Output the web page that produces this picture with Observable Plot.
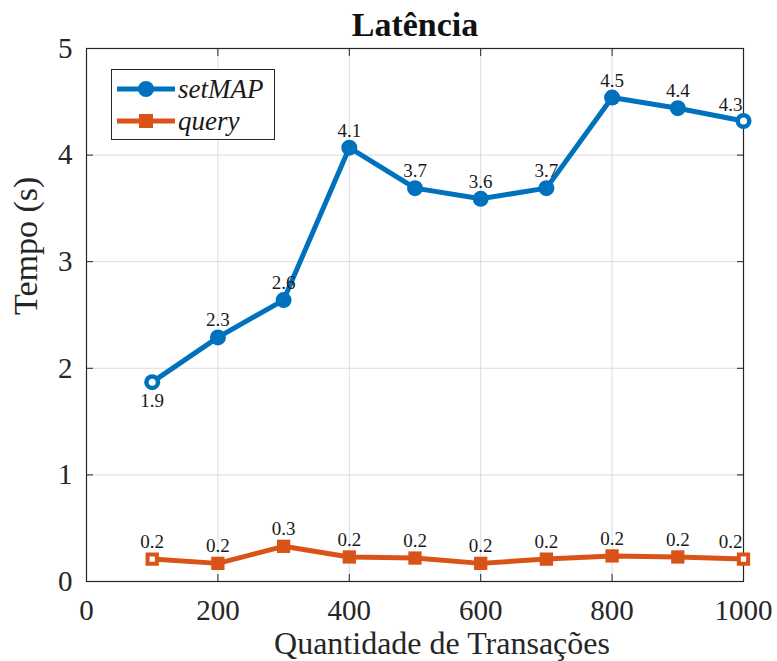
<!DOCTYPE html>
<html>
<head>
<meta charset="utf-8">
<script src="https://cdn.jsdelivr.net/npm/d3@7"></script>
<script src="https://cdn.jsdelivr.net/npm/@observablehq/plot@0.6"></script>
<style>
  html, body { margin: 0; padding: 0; background: #fff; }
  #wrap { position: relative; width: 777px; height: 661px; }
  #legend { position: absolute; left: 111px; top: 69px; width: 164px; height: 71px; box-sizing: border-box;
    border: 1px solid #262626; background: #fff; font-family: "Liberation Serif", "Times New Roman", serif;
    font-style: italic; font-size: 27px; color: #1a1a1a; }
  .row { position: absolute; left: 5px; height: 30px; display: flex; align-items: center; line-height: 30px; }
  .row svg { margin-right: 3px; flex: none; }
</style>
</head>
<body>
<div id="wrap">
  <div id="chart"></div>
  <div id="legend"></div>
</div>
<script>
const transacoes = [100, 200, 300, 400, 500, 600, 700, 800, 900, 1000];
const setMAP = [1.87, 2.29, 2.64, 4.07, 3.69, 3.59, 3.69, 4.54, 4.44, 4.32];
const query = [0.21, 0.17, 0.33, 0.23, 0.22, 0.17, 0.21, 0.24, 0.23, 0.21];
const xTicks = [0, 200, 400, 600, 800, 1000];
const yTicks = [0, 1, 2, 3, 4, 5];
const seriesNames = ["setMAP", "query"];
const title = "Latência";
const xLabel = "Quantidade de Transações";
const yLabel = "Tempo (s)";

const blue = "#0072BD", orange = "#D95319";
const font = "'Liberation Serif', 'Times New Roman', serif";

const dA = transacoes.map((x, i) => ({x, y: setMAP[i], i}));
const dB = transacoes.map((x, i) => ({x, y: query[i], i}));
const last = transacoes.length - 1;
const ends = d => d.i === 0 || d.i === last;
const fmt1 = d => d.y.toFixed(1);

const chart = Plot.plot({
  width: 777, height: 661,
  marginLeft: 86, marginRight: 34, marginTop: 48, marginBottom: 80,
  style: {fontFamily: font, background: "#fff", color: "#262626"},
  x: {domain: [0, 1000]},
  y: {domain: [0, 5]},
  marks: [
    Plot.gridX(xTicks, {stroke: "#dcdcdc", strokeOpacity: 1, strokeWidth: 1}),
    Plot.gridY(yTicks, {stroke: "#dcdcdc", strokeOpacity: 1, strokeWidth: 1}),
    Plot.frame({stroke: "#262626", strokeWidth: 1.2}),
    Plot.axisX(xTicks, {anchor: "bottom", tickSize: 0, tickPadding: 18, fontSize: 29, tickFormat: d => String(d), label: null, fill: "#262626"}),
    Plot.axisY(yTicks, {anchor: "left", tickSize: 0, tickPadding: 14, fontSize: 29, tickFormat: d => String(d), label: null, fill: "#262626"}),
    Plot.axisX(xTicks, {anchor: "bottom", tickSize: -7, tickFormat: () => "", label: null, stroke: "#262626"}),
    Plot.axisX(xTicks, {anchor: "top", tickSize: -7, tickFormat: () => "", label: null, stroke: "#262626"}),
    Plot.axisY(yTicks, {anchor: "left", tickSize: -7, tickFormat: () => "", label: null, stroke: "#262626"}),
    Plot.axisY(yTicks, {anchor: "right", tickSize: -7, tickFormat: () => "", label: null, stroke: "#262626"}),
    Plot.line(dA, {x: "x", y: "y", stroke: blue, strokeWidth: 5}),
    Plot.dot(dA, {x: "x", y: "y", r: 8, fill: blue, stroke: null}),
    Plot.dot(dA.filter(ends), {x: "x", y: "y", r: 3.5, fill: "#fff"}),
    Plot.line(dB, {x: "x", y: "y", stroke: orange, strokeWidth: 5}),
    Plot.dot(dB, {x: "x", y: "y", r: 7.5, symbol: "square", fill: orange, stroke: null}),
    Plot.dot(dB.filter(ends), {x: "x", y: "y", r: 3, symbol: "square", fill: "#fff"}),
    Plot.text(dA.filter(d => d.i !== 0 && d.i !== last), {x: "x", y: "y", text: fmt1, dy: -17, fontSize: 19, fill: "#1a1a1a"}),
    Plot.text(dA.filter(d => d.i === 0), {x: "x", y: "y", text: fmt1, dy: 19, fontSize: 19, fill: "#1a1a1a"}),
    Plot.text(dA.filter(d => d.i === last), {x: "x", y: "y", text: fmt1, dy: -16, dx: -1, textAnchor: "end", fontSize: 19, fill: "#1a1a1a"}),
    Plot.text(dB.filter(d => d.i !== last), {x: "x", y: "y", text: fmt1, dy: -17, fontSize: 19, fill: "#1a1a1a"}),
    Plot.text(dB.filter(d => d.i === last), {x: "x", y: "y", text: fmt1, dy: -17, dx: -1, textAnchor: "end", fontSize: 19, fill: "#1a1a1a"}),
    Plot.text([title], {frameAnchor: "top", lineAnchor: "middle", dy: -23, fontSize: 34, fontWeight: "bold", fill: "#111"}),
    Plot.text([xLabel], {frameAnchor: "bottom", lineAnchor: "middle", dy: 62, dx: 27, fontSize: 32, fill: "#262626"}),
    Plot.text([yLabel], {frameAnchor: "left", lineAnchor: "middle", dx: -60, rotate: -90, fontSize: 34, fill: "#262626"})
  ]
});
document.getElementById("chart").appendChild(chart);

const legend = document.getElementById("legend");
const colors = [blue, orange];
const symbols = ["circle", "square"];
seriesNames.forEach((name, k) => {
  const row = document.createElement("div");
  row.className = "row";
  row.style.top = (k === 0 ? 4 : 36) + "px";
  const marker = symbols[k] === "circle"
    ? `<circle cx="29" cy="15" r="8" fill="${colors[k]}"/>`
    : `<rect x="22" y="8" width="14" height="14" fill="${colors[k]}"/>`;
  row.innerHTML = `<svg width="58" height="30"><line x1="0" x2="58" y1="15" y2="15" stroke="${colors[k]}" stroke-width="5"/>${marker}</svg><span>${name}</span>`;
  legend.appendChild(row);
});
</script>
</body>
</html>
